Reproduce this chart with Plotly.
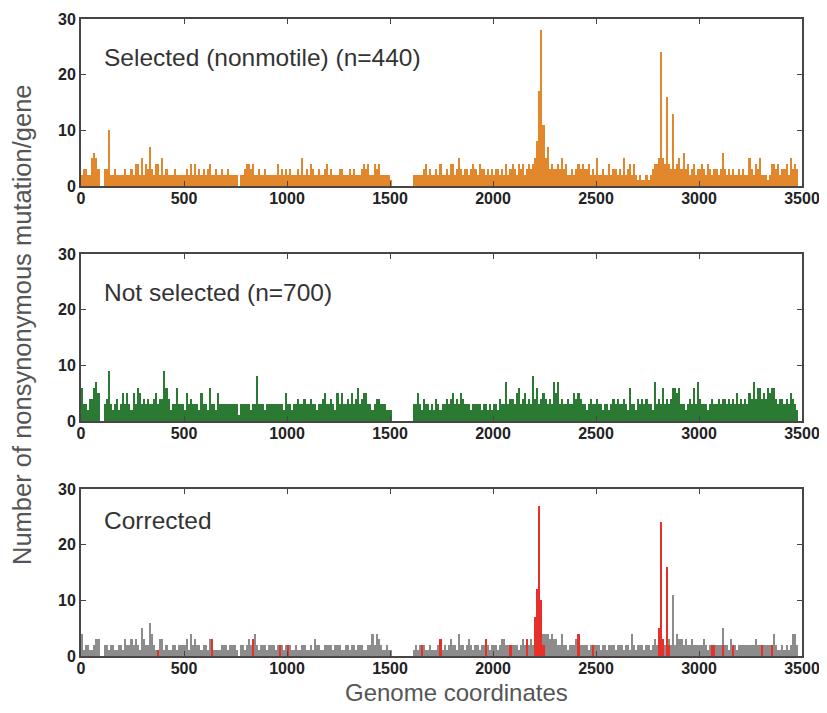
import plotly.graph_objects as go

# ---------------- data (10-gene bins, value = nonsynonymous mutations/gene) -------------
BIN = 10
x_ticks = [0, 500, 1000, 1500, 2000, 2500, 3000, 3500]
y_ticks = [0, 10, 20, 30]

sel_a = [2,3,3,2,2,5,6,5,3,0, 0,3,3,10,2,2,3,2,2,2, 2,3,2,2,3,2,4,4,2,5, 2,4,3,7,3,2,4,4,2,5, 2,3,2,2,2,3,2,2,2,2]
sel_b = [2,3,2,4,2,4,2,3,2,3, 2,3,4,2,2,3,2,2,3,2, 2,3,2,2,2,2,0,2,2,3, 4,4,3,4,2,2,3,2,2,3, 2,2,2,2,2,4,2,3,2,3]
sel_c = [2,3,2,2,2,3,2,5,2,3, 2,4,3,2,2,3,2,2,3,4, 2,3,2,2,2,3,3,2,2,2, 3,2,3,2,2,2,3,4,3,4, 2,2,4,3,4,2,2,2,2,2]
sel_d = [1,0,0,0,0,0,0,0,0,0, 0,2,2,2,2,2,3,4,2,3, 2,2,3,2,4,2,2,3,2,4, 4,2,3,5,3,2,3,3,2,3, 4,3,2,4,3,3,2,3,2,3]
sel_e = [2,3,3,2,3,2,4,2,3,4, 3,2,4,3,4,2,3,4,3,4, 5,8,17,28,11,5,7,3,4,3, 3,4,3,5,3,4,2,2,3,2, 3,4,3,4,3,3,4,2,3,2]
sel_f = [5,2,2,3,2,2,4,2,3,3, 2,3,2,5,2,3,4,2,4,2, 1,2,1,1,2,1,2,3,4,4, 5,24,5,4,16,4,3,13,3,4, 5,3,6,3,4,2,3,4,2,3]
sel_g = [3,4,3,2,4,3,2,3,3,2, 3,6,3,2,3,2,3,2,2,3, 2,3,2,2,5,3,2,4,3,5, 2,2,2,1,2,4,4,3,4,2, 3,3,4,2,5,3,4,3,0,0]

nsel_a = [6,3,3,2,4,4,6,7,5,0, 0,3,4,9,3,2,3,4,2,3, 5,3,5,3,2,5,3,6,5,3, 4,3,4,3,3,4,5,3,4,4, 9,6,4,2,3,3,6,3,3,3]
nsel_b = [2,5,3,4,3,3,3,2,5,3, 3,2,6,3,3,2,5,3,3,3, 3,3,3,3,3,3,1,3,3,3, 3,3,2,3,3,8,3,3,3,2, 3,3,3,3,3,3,3,3,2,5]
nsel_c = [3,3,2,3,3,4,3,3,4,3, 3,4,3,3,2,3,3,4,5,3, 3,4,3,2,5,3,5,3,3,4, 3,5,3,4,6,3,4,5,5,3, 3,2,3,4,4,3,3,3,2,2]
nsel_d = [2,0,0,0,0,0,0,0,0,0, 0,3,3,5,3,2,4,3,3,2, 3,2,4,3,2,3,3,4,3,4, 5,3,4,3,5,4,3,3,3,2, 3,3,3,3,2,3,3,2,3,2]
nsel_e = [3,3,2,4,3,3,7,3,4,4, 3,5,6,3,4,5,3,4,3,8, 4,6,3,4,5,4,3,4,3,7, 5,7,3,4,3,3,4,3,3,5, 4,5,4,3,3,2,3,4,3,3]
nsel_f = [4,3,3,2,3,3,2,3,4,3, 4,3,3,4,3,2,6,3,3,2, 4,3,4,3,4,3,3,2,7,3, 4,3,6,3,4,3,4,6,6,5, 6,3,3,2,3,4,3,6,3,7]
nsel_g = [4,3,3,3,2,3,4,3,3,4, 3,4,4,3,4,3,4,3,5,3, 4,3,4,3,5,4,7,4,6,6, 4,5,4,6,5,6,6,4,3,4, 4,3,4,3,5,4,3,2,0,0]

corr_a = [4,1,2,2,1,1,2,3,3,0, 0,2,2,1,2,2,1,1,2,2, 1,3,2,2,3,2,3,2,1,5, 3,2,2,6,4,2,1,1,3,3, 1,2,1,1,2,2,1,2,2,2]
corr_b = [2,3,1,4,2,3,2,2,1,2, 2,1,3,3,1,1,1,1,2,2, 2,1,2,2,2,1,0,2,2,1, 2,3,2,3,4,2,1,2,2,2, 1,2,2,2,1,2,2,2,1,2]
corr_c = [2,2,1,1,2,1,1,2,2,1, 1,2,1,3,2,2,1,1,2,2, 2,2,1,2,2,2,1,1,2,2, 1,2,2,1,2,2,2,1,1,2, 2,4,2,4,3,2,1,1,2,1]
corr_d = [1,0,0,0,0,0,0,0,0,0, 0,1,2,1,2,2,2,1,1,2, 1,1,1,2,3,1,2,1,2,3, 2,2,1,4,2,2,1,2,3,2, 1,2,2,1,2,2,3,2,1,2]
corr_e = [2,2,1,2,3,3,2,2,2,2, 2,2,1,2,3,2,3,2,3,2, 7,12,27,10,4,4,4,3,4,3, 3,2,2,4,2,2,1,2,2,2, 3,4,2,2,2,2,1,2,2,2]
corr_f = [2,2,1,2,2,1,2,2,2,1, 2,2,2,1,2,2,1,4,2,1, 2,2,2,1,2,2,1,2,3,2, 5,24,3,2,16,3,2,11,2,4, 3,3,2,3,2,2,3,2,2,2]
corr_g = [2,2,3,2,1,2,2,2,2,2, 2,5,2,2,1,3,2,2,1,2, 2,2,2,2,2,2,2,3,2,2, 2,2,2,2,2,2,4,2,1,1, 2,1,2,1,2,4,4,2,0,0]

# bins (index of 10-gene bin) where the corrected count is shown in red
red_bins = [37, 63, 83, 96, 100, 165, 174, 196, 208, 216, 220, 221, 222, 223, 224,
            241, 248, 280, 281, 282, 284, 285, 306, 307, 311, 316, 330, 335]
red_vals = [1, 3, 3, 2, 2, 2, 3, 3, 2, 3, 7, 12, 27, 10, 2,
            4, 2, 5, 24, 3, 16, 2, 2, 2, 2, 2, 2, 2]

titles = ["Selected (nonmotile) (n=440)", "Not selected (n=700)", "Corrected"]

sel = sel_a + sel_b + sel_c + sel_d + sel_e + sel_f + sel_g
nsel = nsel_a + nsel_b + nsel_c + nsel_d + nsel_e + nsel_f + nsel_g
corr = corr_a + corr_b + corr_c + corr_d + corr_e + corr_f + corr_g
xs = [i * BIN + BIN / 2 for i in range(len(sel))]
red_x = [b * BIN + BIN / 2 for b in red_bins]

ORANGE = "#E3872C"
GREEN = "#2B7A33"
GRAY = "#8C8C8C"
RED = "#E8302A"
FRAME = "#4a4444"
FONT = "Liberation Sans, Arial, sans-serif"

fig = go.Figure()
bar_kw = dict(width=BIN, marker_line_width=0, showlegend=False, hoverinfo="x+y")
fig.add_trace(go.Bar(x=xs, y=sel, marker_color=ORANGE, xaxis="x", yaxis="y", **bar_kw))
fig.add_trace(go.Bar(x=xs, y=nsel, marker_color=GREEN, xaxis="x2", yaxis="y2", **bar_kw))
fig.add_trace(go.Bar(x=xs, y=corr, marker_color=GRAY, xaxis="x3", yaxis="y3", **bar_kw))
fig.add_trace(go.Bar(x=red_x, y=red_vals, marker_color=RED, xaxis="x3", yaxis="y3", **bar_kw))

# the html page body has an 8px margin: the figure sits at (8, 8) in the window
OFF = 8
W, H = 827 - OFF, 713 - 2 * OFF


def fx(px):  # window pixel -> paper x
    return (px - OFF) / W


def fy(py):  # window pixel -> paper y
    return 1 - (py - OFF) / H


px_l, px_r = 81, 802
panels = [(19, 186), (254, 421), (489, 656)]

layout = dict(
    width=W, height=H, margin=dict(l=0, r=0, t=0, b=0, autoexpand=False),
    paper_bgcolor="white", plot_bgcolor="white",
    barmode="overlay", bargap=0,
    font=dict(family=FONT, color="#222"),
)
tick_font = dict(size=16, color="#222222", family=FONT, weight="bold")
for k, (top, bot) in enumerate(panels):
    sfx = "" if k == 0 else str(k + 1)
    layout["xaxis" + sfx] = dict(
        domain=[fx(px_l), fx(px_r)], range=[0, 3500], anchor="y" + sfx,
        tickvals=x_ticks, ticktext=[str(v) for v in x_ticks],
        ticks="inside", ticklen=5, tickwidth=1.3, tickcolor=FRAME,
        showline=True, linecolor=FRAME, linewidth=2, mirror="ticks",
        showgrid=False, zeroline=False, fixedrange=True, automargin=False,
        tickfont=tick_font, ticklabelstandoff=-3,
    )
    layout["yaxis" + sfx] = dict(
        domain=[fy(bot), fy(top)], range=[0, 30], anchor="x" + sfx,
        tickvals=y_ticks, ticktext=[str(v) for v in y_ticks],
        ticks="inside", ticklen=5, tickwidth=1.3, tickcolor=FRAME,
        showline=True, linecolor=FRAME, linewidth=2, mirror="ticks",
        showgrid=False, zeroline=False, fixedrange=True, automargin=False,
        tickfont=tick_font,
    )
fig.update_layout(**layout)

title_y = [57, 292, 520]
for t, ty in zip(titles, title_y):
    fig.add_annotation(text=t, x=fx(102), y=fy(ty), xref="paper", yref="paper",
                       xanchor="left", yanchor="middle", showarrow=False,
                       font=dict(size=24.5, color="#333333", family=FONT))

fig.add_annotation(text="Number of nonsynonymous mutation/gene", textangle=-90,
                   x=fx(22), y=fy(325), xref="paper", yref="paper",
                   xanchor="center", yanchor="middle", showarrow=False,
                   font=dict(size=25.5, color="#555555", family=FONT))
fig.add_annotation(text="Genome coordinates", x=fx(456), y=fy(692),
                   xref="paper", yref="paper", xanchor="center", yanchor="middle",
                   showarrow=False, font=dict(size=24, color="#555555", family=FONT))

fig.write_html("out.html")
